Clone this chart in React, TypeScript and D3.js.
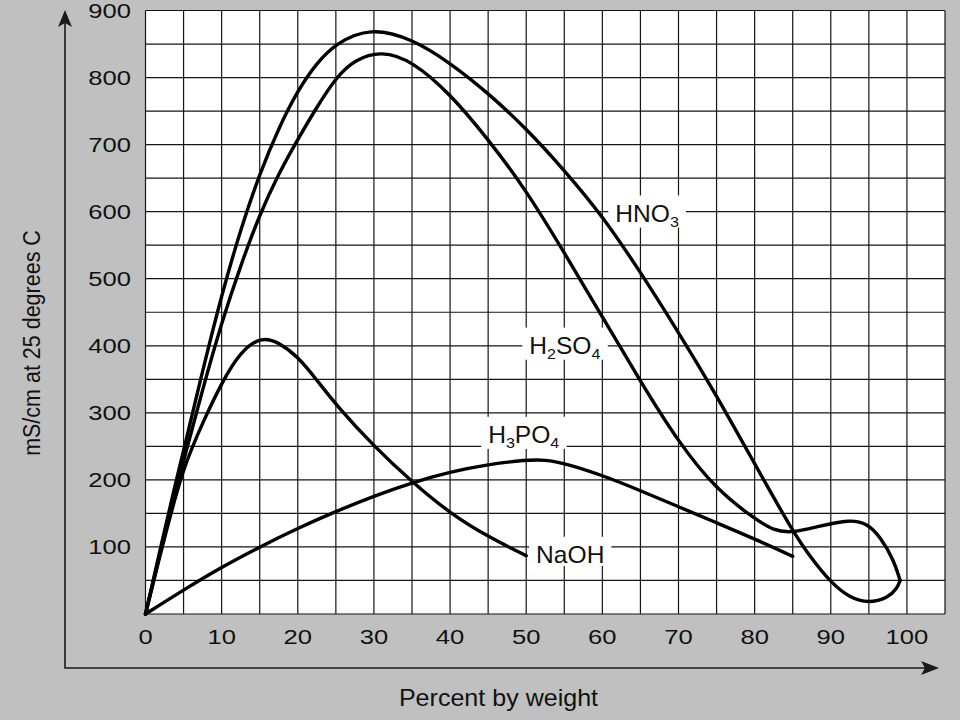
import * as d3 from 'd3';
import { useEffect, useRef } from 'react';

// conductivity (mS/cm at 25 C) against percent by weight
const hno3: [number, number][] = [
  [0, 0], [2, 100], [4, 198], [5, 243], [7.5, 363], [10, 476], [12.5, 574], [15, 657],
  [17.5, 725], [20, 781], [22.5, 822], [25, 851], [29.5, 875], [35, 858], [40, 822],
  [45, 777], [50, 724], [55, 662], [60, 594], [65, 510], [70, 420], [75, 326], [80, 224],
  [85, 123], [87.5, 82], [90, 47], [92.5, 24], [95, 16], [97.5, 24], [98.7, 38], [99.1, 50],
];
const h2so4: [number, number][] = [
  [0, 0], [2, 95], [4, 186], [5, 228], [7.5, 335], [10, 435], [12.5, 520], [15, 596],
  [17.5, 657], [20, 708], [22.5, 756], [25, 800], [27.5, 827], [31, 840], [35, 825],
  [40, 776], [45, 708], [50, 632], [55, 539], [60, 443], [65, 347], [70, 256], [75, 185],
  [80, 142], [82.5, 124], [85, 121], [88.5, 131], [92.5, 141], [94.8, 135], [96.5, 115],
  [98.3, 80], [99.1, 50],
];
const h3po4: [number, number][] = [
  [0, 0], [5, 36], [10, 70], [15, 100], [20, 128], [25, 153], [30, 176], [35, 196],
  [40, 212], [45, 223], [50, 230], [52.5, 230], [55, 225], [60, 207], [65, 184], [70, 160],
  [75, 136], [80, 112], [85, 86],
];
const naoh: [number, number][] = [
  [0, 0], [2, 92], [4, 178], [5, 215], [6, 245], [7.5, 285], [10, 345], [12.5, 392],
  [15.3, 414], [17.5, 405], [20, 384], [22.5, 349], [25, 312], [30, 250], [35, 197],
  [40, 150], [45, 115], [50, 87],
];

const xTicks = [0, 10, 20, 30, 40, 50, 60, 70, 80, 90, 100];
const yTicks = [100, 200, 300, 400, 500, 600, 700, 800, 900];

// curve labels: text parts (sub = subscript) and anchor in data units
const labels = [
  { parts: [['HNO', false], ['3', true]], at: [61.7, 585] },
  { parts: [['H', false], ['2', true], ['SO', false], ['4', true]], at: [50.4, 388] },
  { parts: [['H', false], ['3', true], ['PO', false], ['4', true]], at: [45, 255] },
  { parts: [['NaOH', false]], at: [51.3, 76] },
] as { parts: [string, boolean][]; at: [number, number] }[];

const FONT = "'Liberation Sans', Arial, Helvetica, sans-serif";

function App() {
  const svgElement = useRef<SVGSVGElement | null>(null);

  useEffect(() => {
    document.body.style.margin = '0';
    const svg = d3.select(svgElement.current);
    svg.selectAll('*').remove();

    const x = d3.scaleLinear().domain([0, 105]).range([145.5, 945]);
    const y = d3.scaleLinear().domain([0, 900]).range([614, 10.5]);

    svg.append('rect').attr('width', 960).attr('height', 720).attr('fill', '#c0c0c0');

    // plot background
    svg
      .append('rect')
      .attr('x', x(0))
      .attr('y', y(900))
      .attr('width', x(105) - x(0))
      .attr('height', y(0) - y(900))
      .attr('fill', '#fff');

    // grid
    const grid = svg.append('g').attr('stroke', '#151515').attr('stroke-width', 1.2);
    grid
      .selectAll('.vline')
      .data(d3.range(0, 106, 5))
      .join('line')
      .attr('class', 'vline')
      .attr('x1', (d) => x(d))
      .attr('x2', (d) => x(d))
      .attr('y1', y(0))
      .attr('y2', y(900));
    grid
      .selectAll('.hline')
      .data(d3.range(0, 901, 50))
      .join('line')
      .attr('class', 'hline')
      .attr('x1', x(0))
      .attr('x2', x(105))
      .attr('y1', (d) => y(d))
      .attr('y2', (d) => y(d));

    // curve labels with white boxes
    labels.forEach((l) => {
      const g = svg.append('g');
      const tx = x(l.at[0]);
      const ty = y(l.at[1]);
      const sx = 1.07;
      const t = g
        .append('text')
        .attr('transform', `translate(${tx},${ty}) scale(${sx},1)`)
        .attr('font-family', FONT)
        .attr('font-size', 23)
        .attr('fill', '#111');
      let shifted = false;
      l.parts.forEach(([s, sub]) => {
        const dy = sub && !shifted ? 5 : !sub && shifted ? -5 : 0;
        shifted = sub;
        t.append('tspan')
          .attr('dy', dy)
          .attr('font-size', sub ? 15 : 23)
          .text(s);
      });
      const b = (t.node() as SVGTextElement).getBBox();
      g.insert('rect', 'text')
        .attr('x', tx + b.x * sx - 7)
        .attr('y', ty + b.y - 5)
        .attr('width', b.width * sx + 14)
        .attr('height', b.height + 3)
        .attr('fill', '#fff');
    });

    // curves (B-spline through the read points, smooths reading noise)
    const line = d3
      .line<[number, number]>()
      .x((d) => x(d[0]))
      .y((d) => y(d[1]))
      .curve(d3.curveBasis);

    svg
      .append('g')
      .selectAll('path')
      .data([hno3, h2so4, h3po4, naoh])
      .join('path')
      .attr('d', (d) => line(d))
      .attr('fill', 'none')
      .attr('stroke', '#000')
      .attr('stroke-width', 3.4)
      .attr('stroke-linejoin', 'round')
      .attr('stroke-linecap', 'round');

    // tick labels
    svg
      .append('g')
      .selectAll('text')
      .data(yTicks)
      .join('text')
      .attr('transform', (d) => `translate(131,${y(d)}) scale(1.28,1)`)
      .attr('dy', '0.36em')
      .attr('text-anchor', 'end')
      .attr('font-family', FONT)
      .attr('font-size', 20)
      .attr('fill', '#111')
      .text((d) => d);

    svg
      .append('g')
      .selectAll('text')
      .data(xTicks)
      .join('text')
      .attr('transform', (d) => `translate(${x(d)},644) scale(1.28,1)`)
      .attr('text-anchor', 'middle')
      .attr('font-family', FONT)
      .attr('font-size', 20)
      .attr('fill', '#111')
      .text((d) => d);

    // axis arrows
    svg
      .append('path')
      .attr('d', 'M65,22 L65,668 L926,668')
      .attr('fill', 'none')
      .attr('stroke', '#1a1a1a')
      .attr('stroke-width', 1.6);
    svg
      .append('path')
      .attr('d', 'M65,10 L58,27 L65,23 L72,27 Z')
      .attr('fill', '#1a1a1a');
    svg
      .append('path')
      .attr('d', 'M939,668 L921,661 L925,668 L921,675 Z')
      .attr('fill', '#1a1a1a');

    // axis titles
    svg
      .append('text')
      .attr('transform', 'translate(498.5,705.5) scale(1.09,1)')
      .attr('text-anchor', 'middle')
      .attr('font-family', FONT)
      .attr('font-size', 23)
      .attr('fill', '#111')
      .text('Percent by weight');

    svg
      .append('text')
      .attr('transform', 'translate(31,343) rotate(-90) scale(1,1.15)')
      .attr('text-anchor', 'middle')
      .attr('dy', '0.35em')
      .attr('font-family', FONT)
      .attr('font-size', 21.5)
      .attr('fill', '#111')
      .text('mS/cm at 25 degrees C');
  }, []);

  return <svg ref={svgElement} width={960} height={720} style={{ display: 'block' }} />;
}

export default App;
